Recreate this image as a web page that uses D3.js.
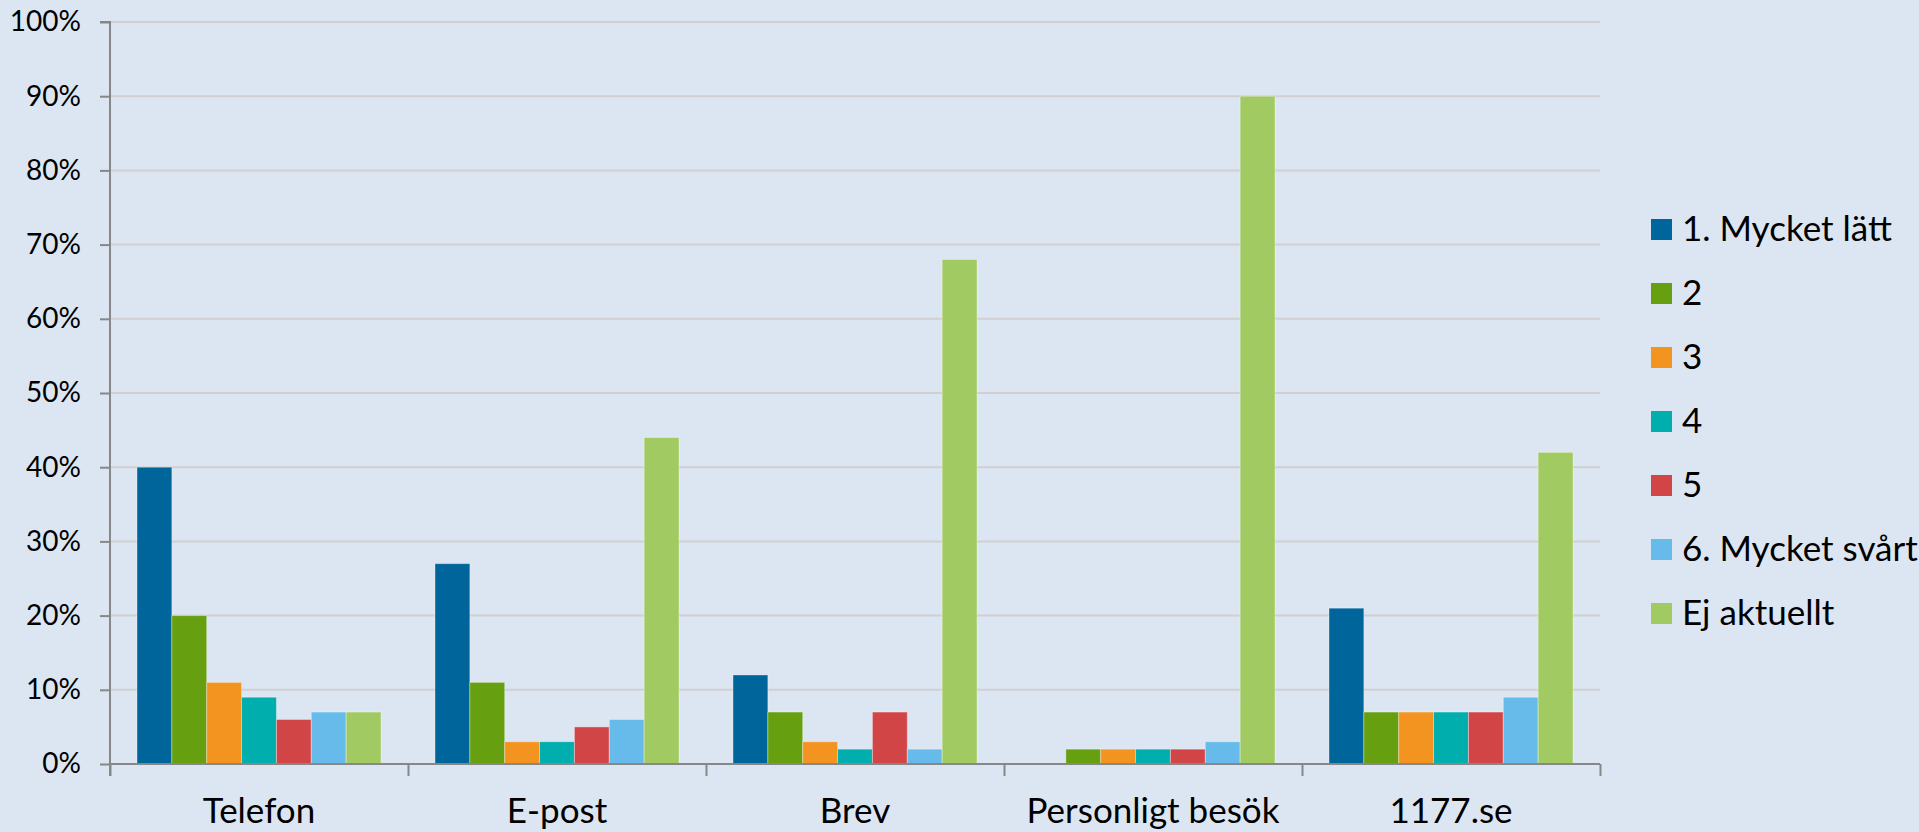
<!DOCTYPE html>
<html>
<head>
<meta charset="utf-8">
<script src="https://cdn.jsdelivr.net/npm/d3@7"></script>
<style>
  html, body { margin: 0; padding: 0; background: #DCE6F2; }
  svg { display: block; }
  text { font-family: Lato, "Open Sans", sans-serif; fill: #000; }
</style>
</head>
<body>
<svg id="chart" width="1919" height="832"></svg>
<script>
const categories = ["Telefon", "E-post", "Brev", "Personligt besök", "1177.se"];
const seriesNames = ["1. Mycket lätt", "2", "3", "4", "5", "6. Mycket svårt", "Ej aktuellt"];
const seriesColors = ["#00659B", "#669F0F", "#F39421", "#00AEAE", "#D24546", "#67BBEB", "#A2CA63"];
const s1 = [40, 27, 12, 0, 21];
const s2 = [20, 11, 7, 2, 7];
const s3 = [11, 3, 3, 2, 7];
const s4 = [9, 3, 2, 2, 7];
const s5 = [6, 5, 7, 2, 7];
const s6 = [7, 6, 2, 3, 9];
const s7 = [7, 44, 68, 90, 42];
const yTicks = [0, 10, 20, 30, 40, 50, 60, 70, 80, 90, 100];
const yTickLabels = ["0%", "10%", "20%", "30%", "40%", "50%", "60%", "70%", "80%", "90%", "100%"];

const seriesValues = [s1, s2, s3, s4, s5, s6, s7];

const svg = d3.select("#chart");
const plotLeft = 110, plotRight = 1600, plotTop = 22, plotBottom = 764;

const x0 = d3.scaleBand().domain(categories).range([plotLeft, plotRight]).padding(0);
const bw = x0.bandwidth();
const x1 = d3.scaleBand().domain(seriesNames).range([27, bw - 27]).padding(0);
const y = d3.scaleLinear().domain([0, 100]).range([plotBottom, plotTop]);

// gridlines
svg.append("g")
  .selectAll("line")
  .data(yTicks.filter(t => t > 0))
  .join("line")
  .attr("x1", plotLeft).attr("x2", plotRight)
  .attr("y1", d => y(d)).attr("y2", d => y(d))
  .attr("stroke", "#D0D0D0").attr("stroke-width", 2);

// bars
const groups = svg.append("g")
  .selectAll("g")
  .data(categories)
  .join("g")
  .attr("transform", c => `translate(${x0(c)},0)`);

groups.selectAll("rect")
  .data((c, ci) => seriesNames.map((s, si) => ({ s, si, v: seriesValues[si][ci] })))
  .join("rect")
  .filter(d => d.v > 0)
  .attr("x", d => x1(d.s))
  .attr("width", x1.bandwidth())
  .attr("y", d => y(d.v))
  .attr("height", d => y(0) - y(d.v))
  .attr("fill", d => seriesColors[d.si])
  .attr("stroke", "rgba(255,255,255,0.35)")
  .attr("stroke-width", 1);

// y axis
const yAxis = d3.axisLeft(y)
  .tickValues(yTicks)
  .tickSize(10)
  .tickPadding(19)
  .tickFormat((d, i) => yTickLabels[i]);
const gy = svg.append("g").attr("transform", `translate(${plotLeft},0)`).call(yAxis);
gy.select(".domain").attr("stroke", "#878787").attr("stroke-width", 2).attr("d", `M-10,${plotTop}H0V${plotBottom + 12}`);
gy.selectAll(".tick line").attr("stroke", "#878787").attr("stroke-width", 2);
gy.selectAll(".tick text").attr("font-size", 28).attr("font-family", "Lato, sans-serif").attr("fill", "#000");

// x axis: boundaries
const xb = d3.scaleLinear().domain([0, categories.length]).range([plotLeft, plotRight]);
const xAxis = d3.axisBottom(xb).ticks(categories.length).tickSize(12).tickFormat("");
const gx = svg.append("g").attr("transform", `translate(0,${plotBottom})`).call(xAxis);
gx.select(".domain").attr("stroke", "#878787").attr("stroke-width", 2).attr("d", `M${plotLeft},0H${plotRight}`);
gx.selectAll(".tick line").attr("stroke", "#878787").attr("stroke-width", 2);

// category labels
svg.append("g")
  .selectAll("text")
  .data(categories)
  .join("text")
  .attr("x", c => x0(c) + bw / 2)
  .attr("y", 823)
  .attr("text-anchor", "middle")
  .attr("font-size", 35)
  .text(c => c);

// legend
const legend = svg.append("g").attr("transform", "translate(1651,219)");
const li = legend.selectAll("g")
  .data(seriesNames)
  .join("g")
  .attr("transform", (d, i) => `translate(0,${i * 64})`);
li.append("rect")
  .attr("width", 21).attr("height", 21)
  .attr("fill", (d, i) => seriesColors[i]);
li.append("text")
  .attr("x", 31).attr("y", 22)
  .attr("font-size", 35)
  .text(d => d);
</script>
</body>
</html>
